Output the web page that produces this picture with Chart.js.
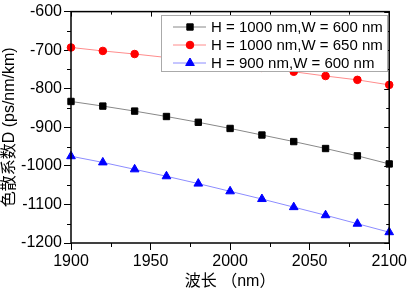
<!DOCTYPE html>
<html>
<head>
<meta charset="utf-8">
<script src="https://cdn.jsdelivr.net/npm/chart.js@4/dist/chart.umd.min.js"></script>
<style>
  html, body { margin: 0; padding: 0; background: #fff; }
  #wrap { width: 409px; height: 291px; }
</style>
</head>
<body>
<div id="wrap"><canvas id="chart"></canvas></div>
<script>
const wavelengths = [1900, 1920, 1940, 1960, 1980, 2000, 2020, 2040, 2060, 2080, 2100]
const dH1000W600 = [-833, -845, -858, -872, -887, -903, -920, -937, -955, -974, -995]
const dH1000W650 = [-693, -702, -710, -719, -728, -737, -746, -756, -767, -777, -790]
const dH900W600 = [-975, -991, -1009, -1027, -1046, -1066, -1086, -1107, -1128, -1150, -1172]
const seriesLabels = ['H = 1000 nm,W = 600 nm', 'H = 1000 nm,W = 650 nm', 'H = 900 nm,W = 600 nm']

const FONT = '"Liberation Sans", Arial, "Noto Sans CJK SC", sans-serif'

const toPoints = arr => arr.map((v, i) => ({ x: wavelengths[i], y: v }))

// frame, minor ticks, mirrored ticks and the inset legend
const framePlugin = {
  id: 'frame',
  afterDraw(chart) {
    const { ctx, chartArea: a, scales: { x, y } } = chart
    ctx.save()
    ctx.strokeStyle = '#000'
    ctx.lineWidth = 1.5
    ctx.strokeRect(a.left, a.top, a.right - a.left, a.bottom - a.top)
    ctx.lineWidth = 1
    ctx.beginPath()
    for (let v = 1900; v <= 2100; v += 25) {
      const px = Math.round(x.getPixelForValue(v)) + 0.5
      const major = v % 50 === 0
      if (!major) {
        ctx.moveTo(px, a.bottom); ctx.lineTo(px, a.bottom + 4)
      }
      ctx.moveTo(px, a.top); ctx.lineTo(px, a.top + (major ? 5 : 3))
    }
    for (let v = -1200; v <= -600; v += 50) {
      const py = Math.round(y.getPixelForValue(v)) + 0.5
      const major = v % 100 === 0
      if (!major) {
        ctx.moveTo(a.left, py); ctx.lineTo(a.left - 4, py)
      }
      ctx.moveTo(a.right, py); ctx.lineTo(a.right - (major ? 5 : 3), py)
    }
    ctx.stroke()

    // legend box
    const lx = 161, ly = 15, lw = 226, lh = 56
    ctx.fillStyle = '#fff'
    ctx.fillRect(lx, ly, lw, lh)
    ctx.strokeStyle = '#aaa'
    ctx.lineWidth = 1
    ctx.strokeRect(lx + 0.5, ly + 0.5, lw, lh)
    ctx.font = '15px ' + FONT
    ctx.textBaseline = 'middle'
    chart.data.datasets.forEach((ds, i) => {
      const cy = ly + 12 + i * 18
      ctx.strokeStyle = ds.borderColor
      ctx.beginPath()
      ctx.moveTo(lx + 12, cy); ctx.lineTo(lx + 45, cy)
      ctx.stroke()
      ctx.fillStyle = ds.pointBackgroundColor
      ctx.strokeStyle = ds.pointBackgroundColor
      Chart.helpers.drawPoint(ctx, {
        pointStyle: ds.pointStyle, radius: ds.pointRadius, borderWidth: 1
      }, lx + 29, cy)
      ctx.fillStyle = '#000'
      ctx.fillText(ds.label, lx + 50, cy + 1)
    })
    ctx.restore()
  }
}

new Chart(document.getElementById('chart'), {
  type: 'line',
  data: {
    datasets: [
      {
        label: seriesLabels[0],
        data: toPoints(dH1000W600),
        borderColor: '#888888',
        pointStyle: 'rect',
        pointRadius: 4.5,
        pointBackgroundColor: '#000',
        pointBorderColor: '#000'
      },
      {
        label: seriesLabels[1],
        data: toPoints(dH1000W650),
        borderColor: '#ff8c8c',
        pointStyle: 'circle',
        pointRadius: 3.8,
        pointBackgroundColor: '#ff0000',
        pointBorderColor: '#ff0000'
      },
      {
        label: seriesLabels[2],
        data: toPoints(dH900W600),
        borderColor: '#8c8cff',
        pointStyle: 'triangle',
        pointRadius: 5,
        pointBackgroundColor: '#0000ff',
        pointBorderColor: '#0000ff'
      }
    ]
  },
  options: {
    responsive: true,
    maintainAspectRatio: false,
    animation: false,
    devicePixelRatio: 1,
    clip: false,
    elements: { line: { borderWidth: 1, tension: 0 }, point: { borderWidth: 1 } },
    layout: { padding: { top: 9, right: 2, left: 0, bottom: 0 } },
    plugins: { legend: { display: false }, tooltip: { enabled: false } },
    scales: {
      x: {
        type: 'linear',
        min: 1900,
        max: 2100,
        ticks: { stepSize: 50, color: '#000', font: { size: 16, family: FONT }, padding: 2, maxRotation: 0, callback: v => String(v) },
        grid: { drawOnChartArea: false, drawTicks: true, tickLength: 7, color: '#000', lineWidth: 1 },
        border: { display: false },
        title: { display: true, text: '波长 （nm）', color: '#000', font: { size: 16, family: FONT }, padding: { top: 8, bottom: 0 } },
        afterFit: s => { s.height = 48 }
      },
      y: {
        min: -1200,
        max: -600,
        ticks: { stepSize: 100, color: '#000', font: { size: 16, family: FONT }, padding: 2, callback: v => String(v) },
        grid: { drawOnChartArea: false, drawTicks: true, tickLength: 7, color: '#000', lineWidth: 1 },
        border: { display: false },
        title: { display: true, text: '色散系数D (ps/nm/km)', color: '#000', font: { size: 16, family: FONT }, padding: { top: 0, bottom: 0 } },
        afterFit: s => { s.width = 71 }
      }
    }
  },
  plugins: [framePlugin]
})
</script>
</body>
</html>
